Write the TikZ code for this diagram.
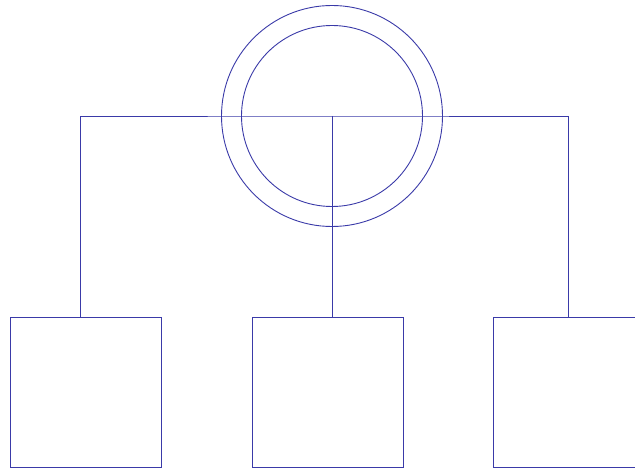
\documentclass[tikz,border=0pt]{standalone}
\usetikzlibrary{calc}
\definecolor{ln}{RGB}{58,58,168}
\tikzset{
  ring/.style={circle, draw=ln, line width=0.9pt, inner sep=0pt},
  box/.style={draw=ln, line width=0.9pt, minimum width=151pt, minimum height=150pt, inner sep=0pt, anchor=north west},
  wire/.style={draw=ln, line width=0.9pt}
}
\begin{document}
\begin{tikzpicture}[x=1pt,y=-1pt]
\useasboundingbox (0,0) rectangle (635,468);
\clip (0,0) rectangle (635,468);
\node[ring, minimum size=221pt] (outer) at (332,116) {};
\node[ring, minimum size=181pt] (inner) at (332,116) {};
\node[box] (lbox) at (9.5,317) {};
\node[box] (mbox) at (252,317) {};
\node[box] (rbox) at (492.5,317) {};
\coordinate (lt) at (80.5,317);
\coordinate (mt) at (332,317);
\coordinate (rt) at (568.5,317);
\draw[wire] (lt) |- (outer.center) -| (rt);
\draw[wire] (outer.center) -- (mt);
\end{tikzpicture}
\end{document}
